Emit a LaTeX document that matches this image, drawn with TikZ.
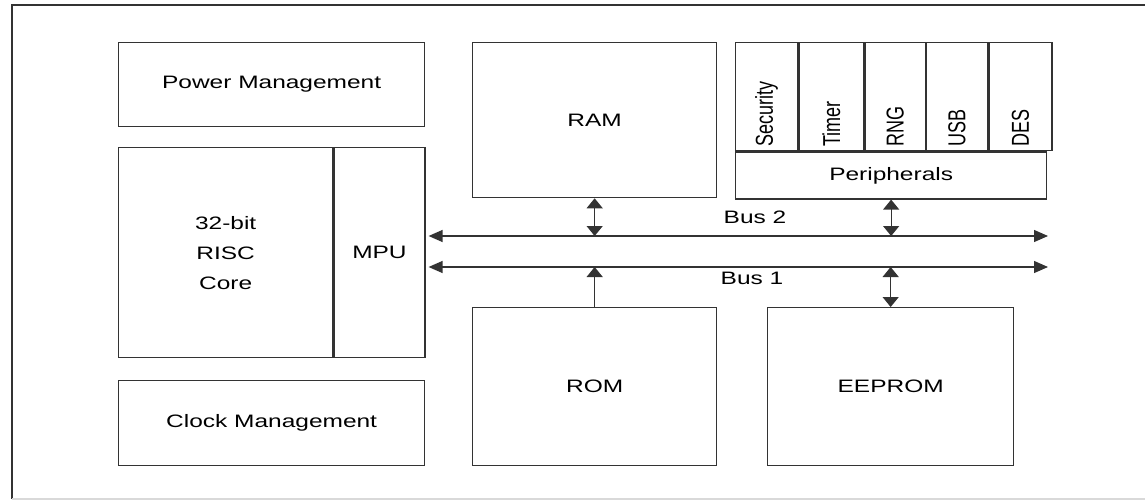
\documentclass[tikz,border=0pt]{standalone}
\usepackage{fontspec}
\setmainfont[FakeStretch=1.36]{Liberation Sans}
\newfontfamily\uprightsans{Liberation Sans}
\usepackage{graphicx}
\usepackage{tikz}
\usetikzlibrary{arrows.meta,positioning}

\newcommand{\vlabel}[1]{\scalebox{1}[1.36]{\uprightsans #1}}

\begin{document}
\begin{tikzpicture}[x=1pt, y=-1pt, line width=1.3pt,
block/.style={rectangle, draw=black!80, anchor=north west, inner sep=0pt,
  font=\fontsize{18}{30}\selectfont, text=black, align=center},
column/.style={block, minimum height=108pt},
collabel/.style={rotate=90, anchor=west, inner sep=4pt,
  font=\fontsize{18}{20}\selectfont, text=black},
buslabel/.style={font=\fontsize{18}{20}\selectfont, text=black},
bus/.style={draw=black!80, shorten <=3pt,
  {Triangle[length=14pt,width=12pt]}-{Triangle[length=14pt,width=12pt]}},
link/.style={draw=black!80,
  {Triangle[length=10pt,width=16pt]}-{Triangle[length=10pt,width=16pt]}},
uplink/.style={draw=black!80, -{Triangle[length=10pt,width=16pt]}}
    ]
  \useasboundingbox (0,0) rectangle (1145,500);
  %% outer frame
  \draw[black!80] (1150,5) -- (12,5) -- (12,499);
  \draw[black!15] (12,499) -- (1150,499);

  \node[block, minimum width=306pt, minimum height=84pt] (pwr) at (118,42) {Power Management};
  \node[block, minimum width=214pt, minimum height=210pt] (core) at (118,147) {32-bit\\RISC\\Core};
  \node[block, minimum width=91pt, minimum height=210pt] (mpu) at (core.north east) {MPU};
  \node[block, minimum width=306pt, minimum height=85pt] (clk) at (118,380) {Clock Management};

  \node[block, minimum width=244pt, minimum height=155pt] (ram) at (472,42) {RAM};
  \node[block, minimum width=244pt, minimum height=158pt] (rom) at (472,307) {ROM};
  \node[block, minimum width=246pt, minimum height=158pt] (eep) at (767,307) {EEPROM};

  %% peripherals
  \node[column, minimum width=62pt] (sec) at (735,42) {};
  \node[column, minimum width=65pt] (tmr) at (sec.north east) {};
  \node[column, minimum width=60pt] (rng) at (tmr.north east) {};
  \node[column, minimum width=61pt] (usb) at (rng.north east) {};
  \node[column, minimum width=63pt] (des) at (usb.north east) {};
  \node[block, minimum width=311pt, minimum height=47pt] (periph) at (sec.south west) {Peripherals};

  \node[collabel] (secl) at (sec.south) {\vlabel{Security}};
  \node[collabel] (tmrl) at (tmr.south) {\vlabel{Timer}};
  \node[collabel] (rngl) at (rng.south) {\vlabel{RNG}};
  \node[collabel] (usbl) at (usb.south) {\vlabel{USB}};
  \node[collabel] (desl) at (des.south) {\vlabel{DES}};

  %% buses
  \coordinate (b2) at (1048,236);
  \coordinate (b1) at (1048,267);
  \draw[bus] (mpu.east |- b2) -- (b2);
  \draw[bus] (mpu.east |- b1) -- (b1);
  \node[buslabel] (bus2) at (755,217) {Bus 2};
  \node[buslabel] (bus1) at (752,278) {Bus 1};

  \draw[link] (ram.south) -- (ram.south |- b2);
  \draw[uplink] (rom.north) -- (rom.north |- b1);
  \draw[link] (periph.south) -- (periph.south |- b2);
  \draw[link] (eep.north) -- (eep.north |- b1);
\end{tikzpicture}
\end{document}
